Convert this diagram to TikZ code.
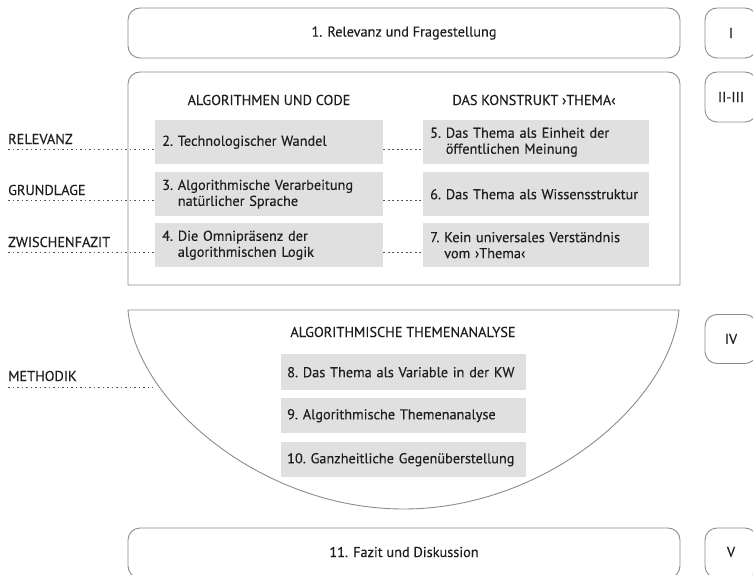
\documentclass[tikz,border=0pt]{standalone}
\usepackage{fontspec}
\setmainfont[FakeBold=0.25]{PT Sans}
\definecolor{framegray}{HTML}{8C8C8C}
\definecolor{boxgray}{HTML}{E0E0E0}
\definecolor{inkgray}{HTML}{1E1E1E}
\definecolor{dotgray}{HTML}{555555}
\newlength{\numw}
% numbered entry over two lines, second line aligned after the number
\newcommand{\twoline}[3]{\settowidth{\numw}{#1~}#1~#2\\\hspace*{\numw}#3}

\tikzset{
  txt/.style={font=\fontsize{14.3}{16}\selectfont, text=inkgray, inner sep=0pt},
  frame/.style={draw=framegray, line width=0.9pt},
  roundbox/.style={frame, rounded corners=12pt, inner sep=0pt, txt},
  entry/.style={fill=boxgray, anchor=north west, minimum height=44pt,
    text width=#1, inner xsep=7pt, inner ysep=0pt, align=left,
    font=\fontsize{14.3}{16}\selectfont, text=inkgray},
  lowentry/.style={entry=233pt, inner xsep=6pt},
  dotline/.style={draw=dotgray, line width=0.8pt, dash pattern=on 1.6pt off 2.9pt},
}

\begin{document}
\begin{tikzpicture}[x=1pt, y=-1pt]
  \useasboundingbox (0,0) rectangle (753,575);
  \clip (0,0) rectangle (753,575);

  % chapter frames
  \node[roundbox, minimum width=552pt, minimum height=50pt] (b1) at (404,33) {1. Relevanz und Fragestellung};
  \draw[frame] (128,285) [rounded corners=12pt] -- (128,72) -- (680,72) [sharp corners] -- (680,285) -- cycle;
  \draw[frame] (128,310) -- (679,310) .. controls (672,400) and (547,509) .. (403.5,509)
               .. controls (260,509) and (135,400) .. cycle;
  \node[roundbox, minimum width=552pt, minimum height=50pt] (b11) at (404,553) {};
  \node[txt] (t11) at (404,552) {11. Fazit und Diskussion};

  % part numbers
  \node[roundbox, minimum width=52pt, minimum height=50pt] (p1) at (731,33) {I};
  \node[roundbox, minimum width=52pt, minimum height=50pt] (p2) at (731,97) {II-III};
  \node[roundbox, minimum width=52pt, minimum height=49pt] (p4) at (731,339) {IV};
  \node[roundbox, minimum width=52pt, minimum height=50pt] (p5) at (731,553) {};
  \node[txt] (t5) at (731,552) {V};

  % column headings
  \node[txt] (h1) at (269,100) {ALGORITHMEN UND CODE};
  \node[txt] (h2) at (534,100) {DAS KONSTRUKT ›THEMA‹};
  \node[txt] (h3) at (403,332) {ALGORITHMISCHE THEMENANALYSE};

  % entries of the upper block
  \node[entry=214pt] (e2) at (155,120) {2.~Technologischer Wandel};
  \node[entry=214pt] (e3) at (155,172) {\twoline{3.}{Algorithmische Verarbeitung}{natürlicher Sprache}};
  \node[entry=214pt] (e4) at (155,223) {\twoline{4.}{Die Omnipräsenz der}{algorithmischen Logik}};
  \node[entry=212pt] (e5) at (423,120) {\twoline{5.}{Das Thema als Einheit der}{öffentlichen Meinung}};
  \node[entry=212pt] (e6) at (423,172) {6.~Das Thema als Wissensstruktur};
  \node[entry=212pt] (e7) at (423,223) {\twoline{7.}{Kein universales Verständnis}{vom ›Thema‹}};

  % entries of the method block
  \node[lowentry, minimum height=36pt] (e8) at (281,354) {8.~Das Thema als Variable in der KW};
  \node[lowentry, minimum height=35pt] (e9) at (281,398) {9.~Algorithmische Themenanalyse};
  \node[lowentry, minimum height=35pt] (e10) at (281,442) {10.~Ganzheitliche Gegenüberstellung};

  % side labels
  \node[txt, anchor=west] (l1) at (8,139) {RELEVANZ};
  \node[txt, anchor=west] (l2) at (8,190) {GRUNDLAGE};
  \node[txt, anchor=west] (l3) at (8,242) {ZWISCHENFAZIT};
  \node[txt, anchor=west] (l4) at (8,376) {METHODIK};

  \coordinate (d1) at (8,149);
  \coordinate (d2) at (8,200);
  \coordinate (d3) at (8,252);
  \coordinate (d4) at (8,387);
  \coordinate (bowl) at (153,387);

  % dotted guides
  \foreach \d/\a/\b in {d1/e2/e5, d2/e3/e6, d3/e4/e7} {
    \draw[dotline] (\d) -- (\d -| \a.west);
    \draw[dotline] (\a.east |- \d) -- (\b.west |- \d);
  }
  \draw[dotline] (d4) -- (bowl);
\end{tikzpicture}
\end{document}
